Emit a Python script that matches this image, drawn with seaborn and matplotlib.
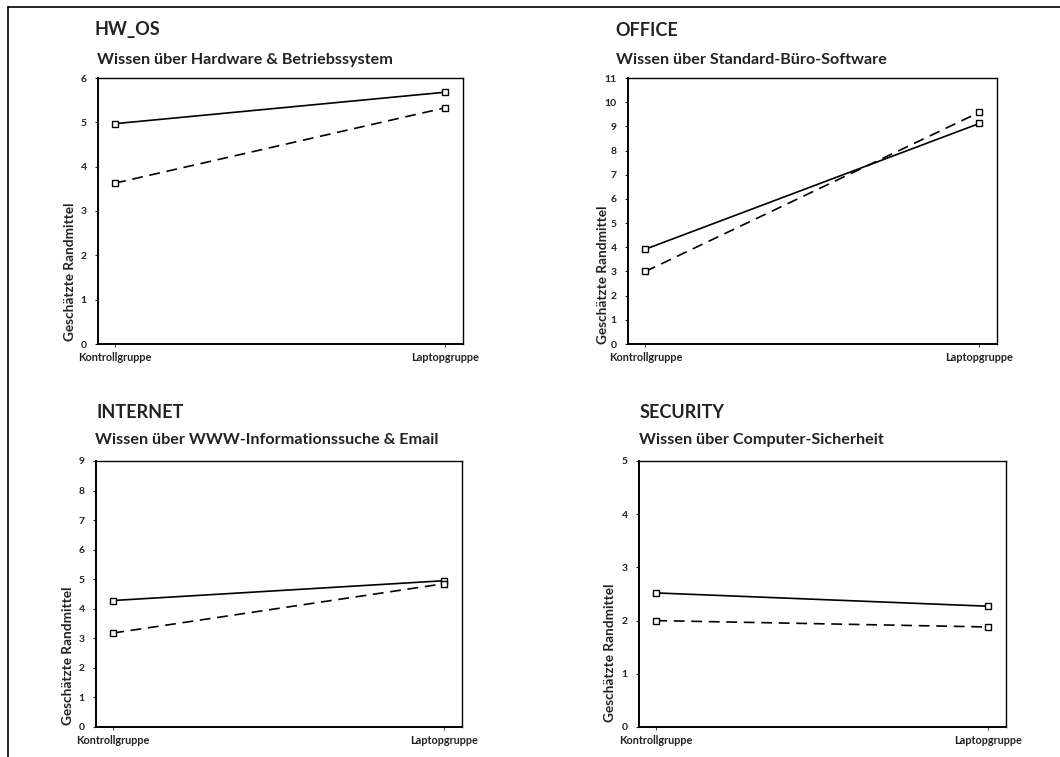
import numpy as np
import pandas as pd
import matplotlib
matplotlib.use("Agg")
import matplotlib.pyplot as plt
import seaborn as sns

# Data: estimated marginal means per knowledge area
gruppen = ["Kontrollgruppe", "Laptopgruppe"]

hw_os_durchgezogen = [4.97, 5.68]
hw_os_gestrichelt = [3.63, 5.33]

office_durchgezogen = [3.92, 9.12]
office_gestrichelt = [3.00, 9.58]

internet_durchgezogen = [4.28, 4.95]
internet_gestrichelt = [3.18, 4.85]

security_durchgezogen = [2.52, 2.27]
security_gestrichelt = [2.00, 1.88]

titel = ["HW_OS", "OFFICE", "INTERNET", "SECURITY"]
untertitel = [
    "Wissen über Hardware & Betriebssystem",
    "Wissen über Standard-Büro-Software",
    "Wissen über WWW-Informationssuche & Email",
    "Wissen über Computer-Sicherheit",
]
y_max = [6, 11, 9, 5]

sns.set_theme(style="white")
plt.rcParams["font.family"] = ["Lato", "DejaVu Sans"]
plt.rcParams["font.weight"] = "bold"

W, H = 1060, 757
fig = plt.figure(figsize=(W / 100, H / 100), dpi=100)

def fx(px):
    return px / W

def fy(py):
    return 1 - py / H

# Panel geometry in pixels: left, top, right, bottom
panels = [
    dict(box=(98, 78, 463, 344), t=(95, 30), s=(97, 60), yl=(70, 341)),
    dict(box=(628, 78, 997, 344), t=(615, 30), s=(616, 60), yl=(603, 344)),
    dict(box=(96, 461, 462, 727), t=(96, 413), s=(95, 440), yl=(68, 725)),
    dict(box=(639, 461, 1006, 727), t=(640, 413), s=(639, 440), yl=(610, 722)),
]

serien = [
    (hw_os_durchgezogen, hw_os_gestrichelt),
    (office_durchgezogen, office_gestrichelt),
    (internet_durchgezogen, internet_gestrichelt),
    (security_durchgezogen, security_gestrichelt),
]

for p, (solid, dashed), t, st, ym in zip(panels, serien, titel, untertitel, y_max):
    l, tp, r, b = p["box"]
    ax = fig.add_axes([fx(l), fy(b), fx(r - l), (b - tp) / H])
    df = pd.DataFrame({
        "x": [0, 1, 0, 1],
        "wert": list(solid) + list(dashed),
        "serie": ["a", "a", "b", "b"],
    })
    sns.lineplot(data=df[df.serie == "a"], x="x", y="wert", ax=ax, color="black",
                 lw=1.2, marker="s", ms=4.5, mfc="white", mec="black", mew=1.0)
    sns.lineplot(data=df[df.serie == "b"], x="x", y="wert", ax=ax, color="black",
                 lw=1.2, marker="s", ms=4.5, mfc="white", mec="black", mew=1.0,
                 linestyle=(0, (6.5, 4)))
    ax.set_xlim(-0.052, 1.053)
    ax.set_ylim(0, ym)
    ax.set_yticks(range(0, ym + 1))
    ax.set_yticklabels([str(v) for v in range(0, ym + 1)], fontsize=7.5, fontweight="bold")
    ax.set_xticks([0, 1])
    ax.set_xticklabels(gruppen, fontsize=7.8, fontweight="bold")
    ax.set_xlabel("")
    ax.set_ylabel("")
    ax.tick_params(axis="y", length=2, width=0.8, pad=6, colors="#222222")
    ax.tick_params(axis="x", length=2, width=0.6, pad=4, colors="#222222")
    ax.tick_params(left=True, bottom=True)
    for side, sp in ax.spines.items():
        sp.set_visible(True)
        sp.set_color("black")
        sp.set_linewidth(1.4 if side in ("left", "bottom") else 1.0)
    ax.grid(False)
    fig.text(fx(p["t"][0]), fy(p["t"][1]), t, fontsize=13, fontweight="bold",
             ha="left", va="center", color="#222222")
    fig.text(fx(p["s"][0]), fy(p["s"][1]), st, fontsize=11.6, fontweight="bold",
             ha="left", va="center", color="#222222")
    fig.text(fx(p["yl"][0]), fy(p["yl"][1]), "Geschätzte Randmittel", fontsize=9.8,
             fontweight="bold", rotation=90, ha="center", va="bottom", color="#222222")

# Frame lines along the top and left edges
fig.add_artist(plt.Line2D([fx(8), 1], [fy(6.5), fy(6.5)], color="black", lw=1.2,
                          transform=fig.transFigure))
fig.add_artist(plt.Line2D([fx(8), fx(8)], [fy(6.5), 0], color="black", lw=1.2,
                          transform=fig.transFigure))

fig.savefig("out.png", dpi=100, facecolor="white")
